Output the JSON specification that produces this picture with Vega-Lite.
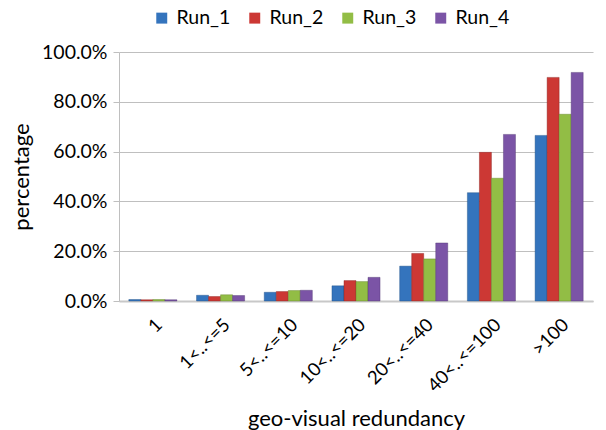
{
  "$schema": "https://vega.github.io/schema/vega-lite/v6.json",
  "autosize": "none",
  "width": 474,
  "height": 249,
  "padding": {"left": 119, "top": 52, "right": 13, "bottom": 129},
  "background": "white",
  "data": {"values": [
    {"cat": "1", "run": "Run_1", "value": 0.006},
    {"cat": "1", "run": "Run_2", "value": 0.005},
    {"cat": "1", "run": "Run_3", "value": 0.006},
    {"cat": "1", "run": "Run_4", "value": 0.005},
    {"cat": "1<..<=5", "run": "Run_1", "value": 0.023},
    {"cat": "1<..<=5", "run": "Run_2", "value": 0.018},
    {"cat": "1<..<=5", "run": "Run_3", "value": 0.025},
    {"cat": "1<..<=5", "run": "Run_4", "value": 0.022},
    {"cat": "5<..<=10", "run": "Run_1", "value": 0.035},
    {"cat": "5<..<=10", "run": "Run_2", "value": 0.038},
    {"cat": "5<..<=10", "run": "Run_3", "value": 0.042},
    {"cat": "5<..<=10", "run": "Run_4", "value": 0.043},
    {"cat": "10<..<=20", "run": "Run_1", "value": 0.061},
    {"cat": "10<..<=20", "run": "Run_2", "value": 0.082},
    {"cat": "10<..<=20", "run": "Run_3", "value": 0.078},
    {"cat": "10<..<=20", "run": "Run_4", "value": 0.095},
    {"cat": "20<..<=40", "run": "Run_1", "value": 0.140},
    {"cat": "20<..<=40", "run": "Run_2", "value": 0.191},
    {"cat": "20<..<=40", "run": "Run_3", "value": 0.169},
    {"cat": "20<..<=40", "run": "Run_4", "value": 0.233},
    {"cat": "40<..<=100", "run": "Run_1", "value": 0.435},
    {"cat": "40<..<=100", "run": "Run_2", "value": 0.597},
    {"cat": "40<..<=100", "run": "Run_3", "value": 0.493},
    {"cat": "40<..<=100", "run": "Run_4", "value": 0.669},
    {"cat": ">100", "run": "Run_1", "value": 0.665},
    {"cat": ">100", "run": "Run_2", "value": 0.898},
    {"cat": ">100", "run": "Run_3", "value": 0.750},
    {"cat": ">100", "run": "Run_4", "value": 0.918}
  ]},
  "mark": {"type": "bar", "strokeWidth": 0.7, "strokeOpacity": 0.6},
  "encoding": {
    "x": {
      "field": "cat", "type": "nominal",
      "sort": ["1", "1<..<=5", "5<..<=10", "10<..<=20", "20<..<=40", "40<..<=100", ">100"],
      "scale": {"paddingInner": 0.29, "paddingOuter": 0.145},
      "axis": {
        "title": "geo-visual redundancy",
        "titleFont": "Lato", "titleFontSize": 22, "titleFontWeight": "normal", "titleColor": "#000",
        "titlePadding": 14,
        "labelFont": "Lato", "labelFontSize": 18.5, "labelColor": "#000",
        "labelAngle": -45, "labelPadding": 14,
        "ticks": false, "domain": true, "domainColor": "#c8c8c8", "domainWidth": 2,
        "grid": false
      }
    },
    "xOffset": {"field": "run", "type": "nominal"},
    "y": {
      "field": "value", "type": "quantitative",
      "scale": {"domain": [0, 1], "nice": false},
      "axis": {
        "title": "percentage",
        "titleFont": "Lato", "titleFontSize": 22, "titleFontWeight": "normal", "titleColor": "#000",
        "titlePadding": 8,
        "format": ".1%", "values": [0, 0.2, 0.4, 0.6, 0.8, 1.0],
        "labelFont": "Lato", "labelFontSize": 19.5, "labelColor": "#000", "labelPadding": 6,
        "tickColor": "#bfbfbf", "tickSize": 6, "domainColor": "#bfbfbf",
        "grid": true, "gridColor": "#bfbfbf", "gridWidth": 1.2
      }
    },
    "color": {
      "field": "run", "type": "nominal",
      "scale": {"domain": ["Run_1", "Run_2", "Run_3", "Run_4"], "range": ["#3474bd", "#cc3834", "#92bd45", "#7b54a6"]},
      "legend": {
        "title": null, "orient": "none", "direction": "horizontal",
        "legendX": 33, "legendY": -44,
        "labelFont": "Lato", "labelFontSize": 19.5, "labelColor": "#000",
        "symbolType": "square", "symbolSize": 120, "symbolStrokeWidth": 0,
        "columnPadding": 14, "labelOffset": 5
      }
    },
    "stroke": {
      "field": "run", "type": "nominal",
      "scale": {"domain": ["Run_1", "Run_2", "Run_3", "Run_4"], "range": ["#1f4f85", "#8a2220", "#61802a", "#4f3570"]},
      "legend": null
    }
  },
  "config": {"view": {"stroke": null}}
}
